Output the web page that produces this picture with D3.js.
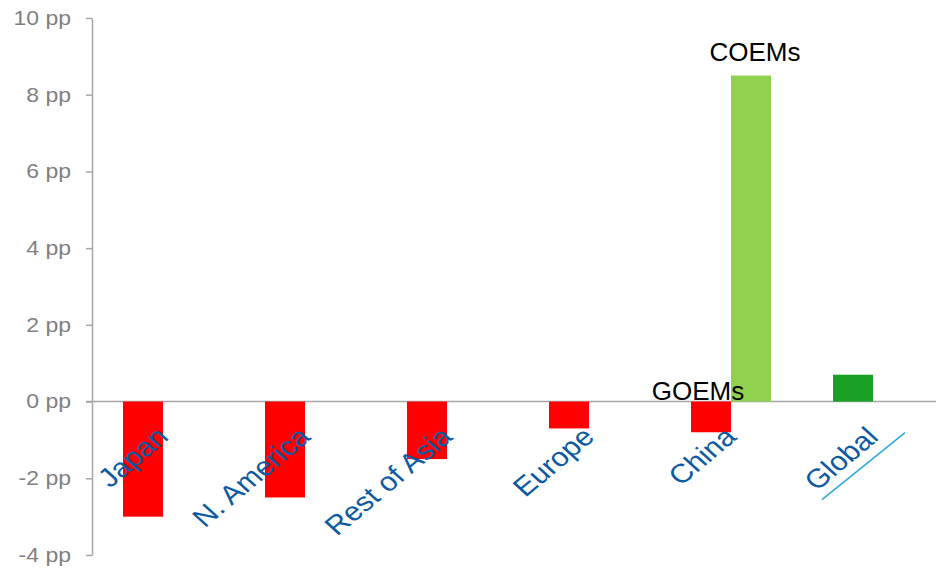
<!DOCTYPE html>
<html>
<head>
<meta charset="utf-8">
<script src="https://cdn.jsdelivr.net/npm/d3@7"></script>
<style>
  html, body { margin: 0; padding: 0; background: #fff; }
  svg { display: block; font-family: Arial, "Liberation Sans", sans-serif; }
</style>
</head>
<body>
<div id="chart"></div>
<script>
const WIDTH = 936;
const HEIGHT = 570;

// data (percentage points)
const categories = ['Japan', 'N. America', 'Rest of Asia', 'Europe', 'China', 'Global'];
const seriesNames = ['GOEMs', 'COEMs'];
const goemsValues = [-3.0, -2.5, -1.5, -0.7, -0.8, 0.7];
const coemsValues = [null, null, null, null, 8.5, null];
const yTicks = [-4, -2, 0, 2, 4, 6, 8, 10];

const RED = '#ff0000';
const LIGHTGREEN = '#92d050';
const DARKGREEN = '#19a024';
const LABELBLUE = '#0b5aa2';
const GREY = '#a6a6a6';

const plot = { left: 92, right: 944, top: 18, bottom: 555 };

const svg = d3.select('#chart').append('svg')
  .attr('width', WIDTH)
  .attr('height', HEIGHT);

const x = d3.scaleBand()
  .domain(categories)
  .range([plot.left, plot.right]);

const bw = x.bandwidth();

const xSub = d3.scaleBand()
  .domain(seriesNames)
  .range([bw / 2 - 40, bw / 2 + 40]);

const y = d3.scaleLinear()
  .domain([-4, 10])
  .range([plot.bottom, plot.top]);

// zero line
svg.append('line')
  .attr('x1', plot.left - 6)
  .attr('x2', WIDTH)
  .attr('y1', y(0))
  .attr('y2', y(0))
  .attr('stroke', GREY)
  .attr('stroke-width', 1.5);

// y axis
const yAxis = svg.append('g')
  .attr('transform', `translate(${plot.left},0)`)
  .call(d3.axisLeft(y).tickValues(yTicks).tickFormat(d => `${d} pp`).tickSize(6).tickSizeOuter(0));

yAxis.select('.domain').attr('stroke', GREY).attr('stroke-width', 1.5);
yAxis.selectAll('.tick line').attr('stroke', GREY).attr('stroke-width', 1.5);
yAxis.selectAll('.tick text')
  .attr('x', -21 / 1.15)
  .attr('transform', 'scale(1.15,1)')
  .attr('fill', '#808080')
  .attr('font-size', 20)
  .attr('font-family', 'Arial, "Liberation Sans", sans-serif');

const goemsData = categories.map((c, i) => ({ cat: c, value: goemsValues[i] }));
const coemsData = categories.map((c, i) => ({ cat: c, value: coemsValues[i] }))
  .filter(d => d.value !== null);

// left bars (GOEMs / regions / global)
svg.append('g').selectAll('rect')
  .data(goemsData)
  .enter()
  .append('rect')
  .attr('x', d => x(d.cat) + xSub('GOEMs'))
  .attr('y', d => y(Math.max(0, d.value)))
  .attr('width', xSub.bandwidth())
  .attr('height', d => Math.abs(y(d.value) - y(0)))
  .attr('fill', d => (d.cat === 'Global' ? DARKGREEN : RED));

// right bars (COEMs)
svg.append('g').selectAll('rect')
  .data(coemsData)
  .enter()
  .append('rect')
  .attr('x', d => x(d.cat) + xSub('COEMs'))
  .attr('y', d => y(Math.max(0, d.value)))
  .attr('width', xSub.bandwidth())
  .attr('height', d => Math.abs(y(d.value) - y(0)))
  .attr('fill', LIGHTGREEN);

// series labels
const chinaX = x('China');
svg.append('text')
  .attr('x', chinaX + xSub('GOEMs') + xSub.bandwidth() / 2 - 13)
  .attr('y', y(0) - 2)
  .attr('text-anchor', 'middle')
  .attr('font-size', 26)
  .attr('fill', '#000')
  .text('GOEMs');

svg.append('text')
  .attr('x', chinaX + xSub('COEMs') + xSub.bandwidth() / 2 + 4)
  .attr('y', y(coemsValues[4]) - 15)
  .attr('text-anchor', 'middle')
  .attr('font-size', 26)
  .attr('fill', '#000')
  .text('COEMs');

// category labels (slanted)
svg.append('g').selectAll('text')
  .data(categories)
  .enter()
  .append('text')
  .attr('transform', d => `translate(${x(d) + bw / 2 + 7},${y(0) + 37}) scale(1.15,1) rotate(-44)`)
  .attr('text-anchor', 'end')
  .attr('font-size', 26.5)
  .attr('fill', LABELBLUE)
  .text(d => d);

// underline under "Global"
const gx = x('Global') + bw / 2;
svg.append('line')
  .attr('x1', gx - 51)
  .attr('y1', y(0) + 98)
  .attr('x2', gx + 32)
  .attr('y2', y(0) + 31)
  .attr('stroke', '#29a8e0')
  .attr('stroke-width', 1.5);
</script>
</body>
</html>
